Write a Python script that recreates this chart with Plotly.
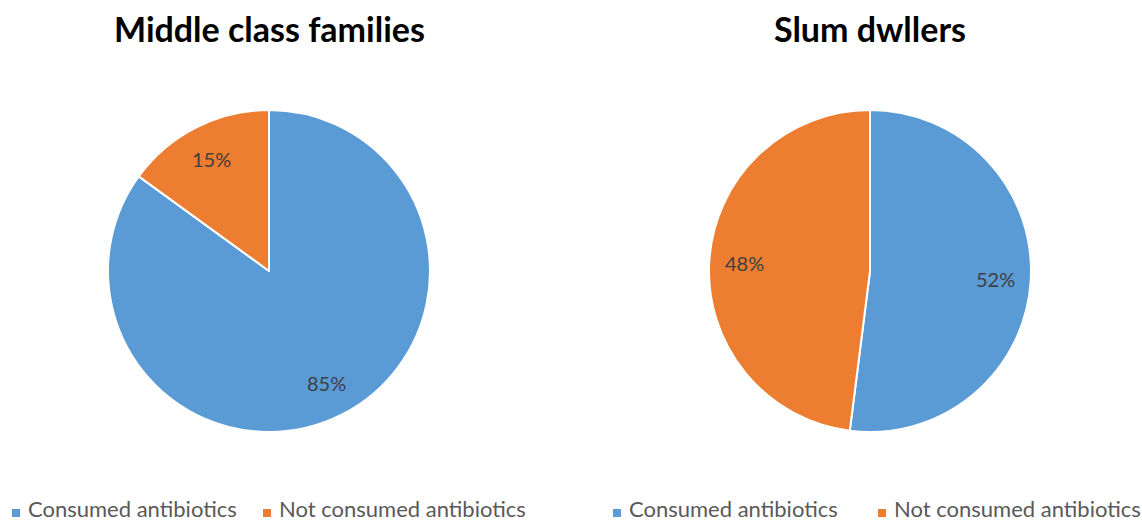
import math
import plotly.graph_objects as go

labels = ["Consumed antibiotics", "Not consumed antibiotics"]
middle_class = [85, 15]
slum = [52, 48]
titles = ["Middle class families", "Slum dwllers"]
colors = ["#5B9BD5", "#ED7D31"]

W, H = 1142, 522
R = 161                      # pie radius in px
CENTERS = [(269, 271), (870, 271)]
LEGEND_X = [(12, 263), (613, 878)]   # left edge of each legend marker
LEGEND_Y = 513

fig = go.Figure()

for k, (values, (cx, cy)) in enumerate(zip([middle_class, slum], CENTERS)):
    fig.add_trace(go.Pie(
        labels=labels,
        values=values,
        sort=False,
        direction="clockwise",
        rotation=0,
        marker=dict(colors=colors, line=dict(color="white", width=2)),
        textinfo="none",
        hoverinfo="label+percent",
        showlegend=False,
        domain=dict(x=[(cx - R) / W, (cx + R) / W], y=[1 - (cy + R) / H, 1 - (cy - R) / H]),
    ))

    # percentage labels on each slice's bisector
    total = float(sum(values))
    cum = 0.0
    for v in values:
        mid = (cum + v / 2.0) / total * 2 * math.pi
        cum += v
        px = cx + 0.78 * R * math.sin(mid)
        py = cy - 0.78 * R * math.cos(mid)
        fig.add_annotation(
            text="%d%%" % round(100 * v / total),
            x=px / W, y=1 - py / H, xref="paper", yref="paper",
            showarrow=False, xanchor="center", yanchor="middle",
            font=dict(family="Lato", size=20, color="#404040"),
        )

    # chart title
    fig.add_annotation(
        text="<b>%s</b>" % titles[k], x=cx / W, y=1 - 28 / H,
        xref="paper", yref="paper", showarrow=False,
        xanchor="center", yanchor="middle",
        font=dict(family="Lato", size=34, color="#000000"),
    )

    # legend row below each pie
    for lx, lab, col in zip(LEGEND_X[k], labels, colors):
        fig.add_shape(type="rect", xref="paper", yref="paper",
                      x0=lx / W, x1=(lx + 8) / W,
                      y0=1 - (LEGEND_Y + 4) / H, y1=1 - (LEGEND_Y - 4) / H,
                      fillcolor=col, line=dict(width=0))
        fig.add_annotation(
            text=lab, x=(lx + 15) / W, y=1 - 508 / H, xref="paper", yref="paper",
            showarrow=False, xanchor="left", yanchor="middle", borderpad=0,
            font=dict(family="Lato", size=22, color="#595959"),
        )

fig.update_layout(
    width=W, height=H,
    margin=dict(l=0, r=0, t=0, b=0, autoexpand=False),
    paper_bgcolor="white",
    plot_bgcolor="white",
)

fig.write_html("out.html")
